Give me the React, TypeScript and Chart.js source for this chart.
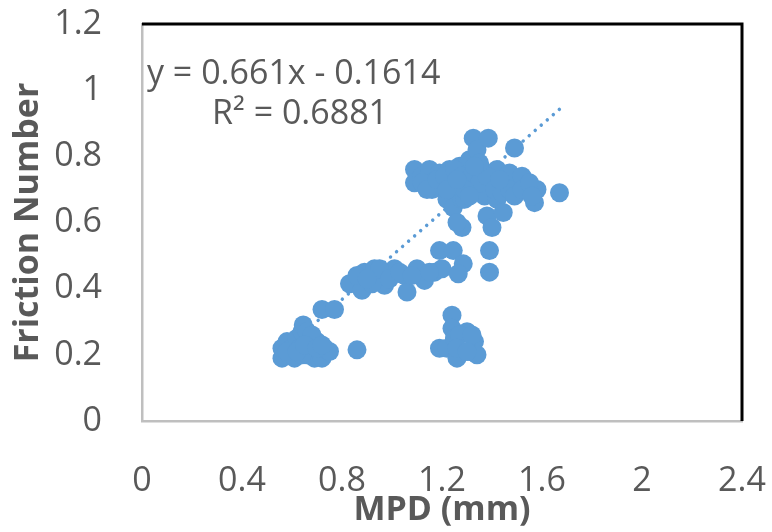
import React, { useEffect, useRef } from "react";
import { Chart, registerables } from "chart.js";

Chart.register(...registerables);

// MPD (mm) values of each measurement
const mpdValues = [
  // low cluster
  0.56, 0.56, 0.58, 0.59, 0.6, 0.61, 0.62, 0.63, 0.64, 0.645, 0.66, 0.66, 0.67, 0.68, 0.69, 0.7, 0.71, 0.72, 0.73, 0.75, 0.64, 0.58, 0.68,
  0.62, 0.65, 0.7, 0.72,
  0.86, 0.72, 0.77,
  // middle band
  0.83, 0.88, 0.89, 0.93, 0.97, 1.01, 1.05, 1.06, 1.1, 1.13, 1.17, 1.2, 0.97, 0.92, 0.86,
  0.95, 0.99, 1.03, 1.08, 1.15, 0.9,
  1.19, 1.245, 1.285, 1.265, 1.39, 1.39,
  // low right cluster
  1.24, 1.24, 1.19, 1.22, 1.25, 1.26, 1.3, 1.31, 1.33, 1.34, 1.27, 1.32, 1.26, 1.3,
  // main cluster
  1.09, 1.09, 1.12, 1.15, 1.16, 1.16, 1.19, 1.2, 1.22, 1.23, 1.24, 1.245, 1.26, 1.27, 1.28, 1.28, 1.3, 1.31,
  1.325, 1.34, 1.385, 1.33, 1.36, 1.37, 1.38, 1.4, 1.4, 1.42, 1.42, 1.445, 1.45, 1.47, 1.49, 1.5, 1.52, 1.54,
  1.58, 1.57, 1.67, 1.29, 1.26,
  1.12, 1.14, 1.18, 1.21, 1.25, 1.28, 1.32, 1.35, 1.38, 1.41, 1.44, 1.47, 1.49, 1.52, 1.55, 1.56, 1.35, 1.33,
  1.29, 1.22, 1.26, 1.43, 1.31,
];

// Friction Number values, same order as mpdValues
const frictionValues = [
  0.19, 0.22, 0.24, 0.2, 0.22, 0.19, 0.25, 0.22, 0.27, 0.29, 0.27, 0.2, 0.24, 0.22, 0.19, 0.24, 0.21, 0.19, 0.22, 0.21, 0.2, 0.21, 0.26,
  0.21, 0.23, 0.22, 0.23,
  0.215, 0.337, 0.337,
  0.415, 0.395, 0.45, 0.46, 0.44, 0.46, 0.44, 0.39, 0.46, 0.425, 0.45, 0.46, 0.41, 0.415, 0.44,
  0.46, 0.43, 0.45, 0.44, 0.45, 0.43,
  0.515, 0.515, 0.475, 0.445, 0.515, 0.45,
  0.32, 0.28, 0.22, 0.22, 0.25, 0.19, 0.27, 0.21, 0.24, 0.2, 0.26, 0.26, 0.22, 0.21,
  0.76, 0.72, 0.74, 0.76, 0.72, 0.7, 0.75, 0.71, 0.67, 0.76, 0.73, 0.645, 0.7, 0.77, 0.585, 0.67, 0.73, 0.79,
  0.855, 0.82, 0.855, 0.7, 0.76, 0.68, 0.62, 0.585, 0.72, 0.76, 0.67, 0.63, 0.72, 0.75, 0.825, 0.71, 0.74, 0.7,
  0.7, 0.66, 0.69, 0.67, 0.6,
  0.72, 0.7, 0.73, 0.74, 0.76, 0.74, 0.74, 0.72, 0.74, 0.7, 0.69, 0.7, 0.68, 0.7, 0.72, 0.68, 0.78, 0.77,
  0.7, 0.7, 0.73, 0.73, 0.68,
];

// Linear trendline shown on the chart
const trendSlope = 0.661;
const trendIntercept = -0.1614;
const equationLabel = "y = 0.661x - 0.1614";
const r2Label = "R² = 0.6881";

const xTickLabels = ["0", "0.4", "0.8", "1.2", "1.6", "2", "2.4"];
const yTickLabels = ["0", "0.2", "0.4", "0.6", "0.8", "1", "1.2"];
const xStep = 0.4;
const yStep = 0.2;

const xTitle = "MPD (mm)";
const yTitle = "Friction Number";

const BLUE = "#5B9BD5";
const TEXT = "#595959";
const FONT = "'Open Sans', 'DejaVu Sans', sans-serif";

export default function App() {
  const canvasRef = useRef<HTMLCanvasElement | null>(null);

  useEffect(() => {
    const canvas = canvasRef.current;
    if (!canvas) return;

    const points = mpdValues.map((x, i) => ({ x, y: frictionValues[i] }));
    const minX = Math.min(...mpdValues);
    const maxX = Math.max(...mpdValues);
    const trend = [
      { x: minX, y: trendSlope * minX + trendIntercept },
      { x: maxX, y: trendSlope * maxX + trendIntercept },
    ];

    const framePlugin = {
      id: "frameAndEquation",
      afterDatasetsDraw(chart: any) {
        const { ctx, chartArea: a } = chart;
        ctx.save();
        ctx.strokeStyle = "#000000";
        ctx.lineWidth = 3;
        ctx.beginPath();
        ctx.moveTo(a.left, a.top);
        ctx.lineTo(a.right, a.top);
        ctx.lineTo(a.right, a.bottom);
        ctx.stroke();
        ctx.fillStyle = TEXT;
        ctx.font = `34px ${FONT}`;
        ctx.textAlign = "left";
        ctx.textBaseline = "alphabetic";
        ctx.fillText(equationLabel, a.left + 5, 84);
        ctx.fillText(r2Label, a.left + 70, 124);
        ctx.restore();
      },
    };

    const zeroPadding = (s: any) => {
      s.paddingLeft = 0;
      s.paddingRight = 0;
      s.paddingTop = 0;
      s.paddingBottom = 0;
    };

    const chart = new Chart(canvas, {
      type: "scatter",
      data: {
        datasets: [
          {
            type: "scatter",
            data: points,
            backgroundColor: BLUE,
            borderColor: BLUE,
            pointRadius: 9.5,
            pointBorderWidth: 0,
            order: 0,
          },
          {
            type: "line",
            data: trend,
            borderColor: BLUE,
            borderWidth: 3.5,
            borderDash: [0.01, 8],
            borderCapStyle: "round",
            pointRadius: 0,
            fill: false,
            order: 1,
          } as any,
        ],
      },
      options: {
        responsive: false,
        animation: false,
        events: [],
        layout: { padding: { top: 24, right: 30, left: 0, bottom: 0 } },
        plugins: {
          legend: { display: false },
          tooltip: { enabled: false },
          title: { display: false },
        },
        scales: {
          x: {
            type: "linear",
            min: 0,
            max: 2.4,
            grid: { display: false, drawTicks: false },
            border: { display: true, color: "#BFBFBF", width: 2.5 },
            ticks: {
              stepSize: xStep,
              autoSkip: false,
              maxRotation: 0,
              padding: 40,
              color: TEXT,
              font: { family: FONT, size: 34 },
              callback: (v: any) => xTickLabels[Math.round(Number(v) / xStep)] ?? "",
            },
            title: {
              display: true,
              text: xTitle,
              color: TEXT,
              font: { family: FONT, size: 34, weight: "bold", lineHeight: 1 },
              padding: { top: 0, bottom: 5 },
            },
            afterFit: (s: any) => {
              s.height = 111;
              zeroPadding(s);
            },
          },
          y: {
            type: "linear",
            min: 0,
            max: 1.2,
            grid: { display: false, drawTicks: false },
            border: { display: true, color: "#BFBFBF", width: 2.5 },
            ticks: {
              stepSize: yStep,
              autoSkip: false,
              padding: 40,
              color: TEXT,
              font: { family: FONT, size: 34 },
              callback: (v: any) => yTickLabels[Math.round(Number(v) / yStep)] ?? "",
            },
            title: {
              display: true,
              text: yTitle,
              color: TEXT,
              font: { family: FONT, size: 34, weight: "bold", lineHeight: 1 },
              padding: { top: 11, bottom: 0 },
            },
            afterFit: (s: any) => {
              s.width = 142;
              zeroPadding(s);
            },
          },
        },
      },
      plugins: [framePlugin],
    });

    return () => {
      chart.destroy();
    };
  }, []);

  return (
    <div style={{ position: "fixed", left: 0, top: 0, width: 772, height: 532, background: "#ffffff" }}>
      <canvas ref={canvasRef} width={772} height={532} style={{ display: "block" }} />
    </div>
  );
}
